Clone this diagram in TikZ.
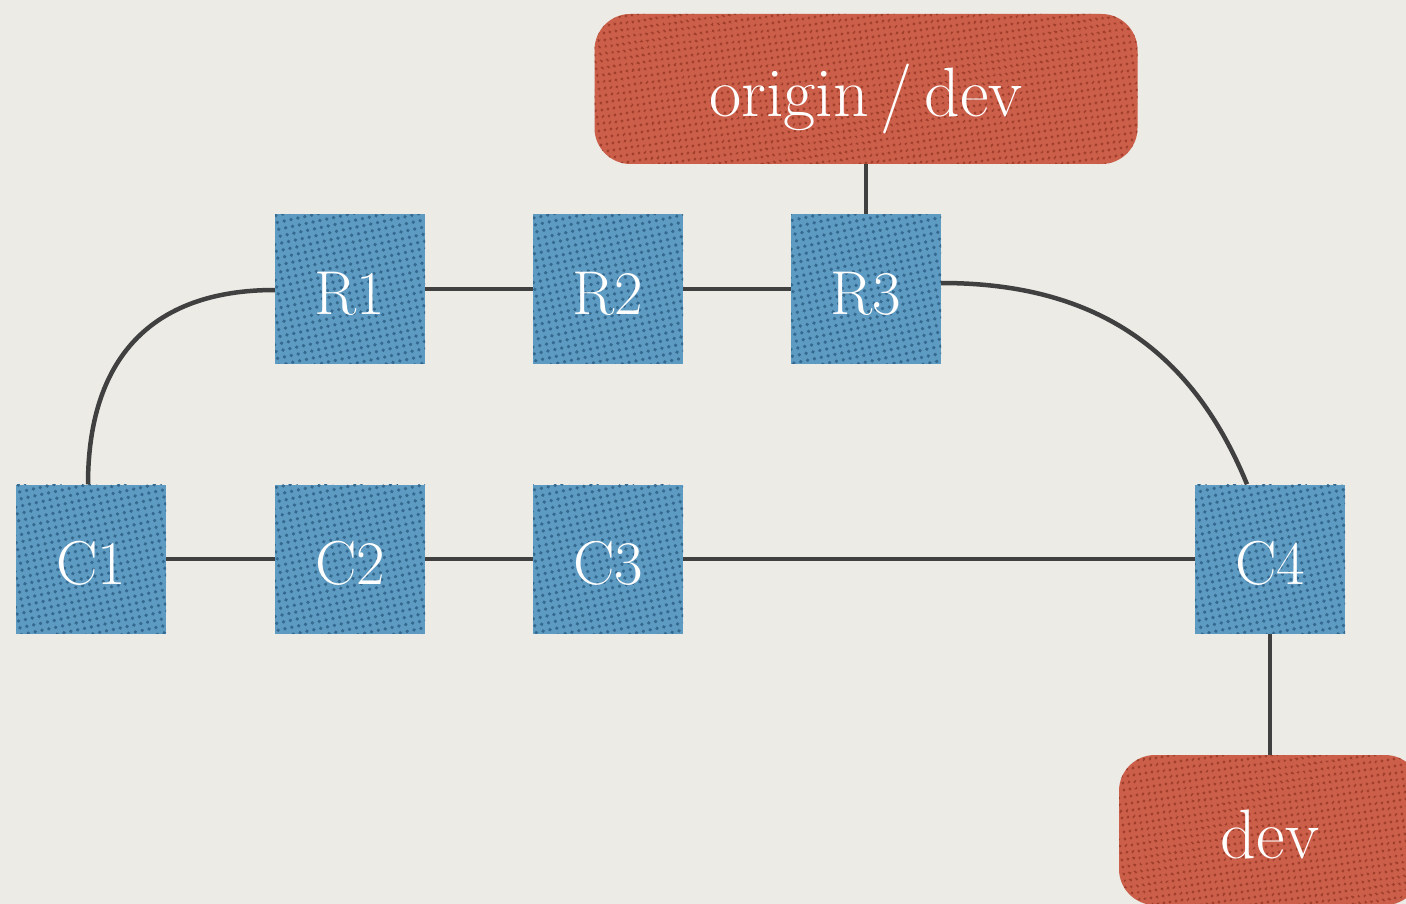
\documentclass[tikz,border=0pt]{standalone}
\usetikzlibrary{patterns.meta}
\definecolor{paper}{HTML}{ECEBE6}
\definecolor{bluebase}{HTML}{5E9BC3}
\definecolor{bluedot}{HTML}{356A90}
\definecolor{redbase}{HTML}{CB5F49}
\definecolor{reddot}{HTML}{A03F2C}
\definecolor{edgegray}{HTML}{404040}
\newcommand\lowtext[2]{\raisebox{-#1}[0pt][0pt]{#2}}
\tikzset{
  commit/.style={rectangle, minimum width=150pt, minimum height=149pt, inner sep=0pt,
    fill=bluebase, text=white, font=\fontsize{62}{70}\selectfont,
    postaction={pattern={Dots[radius=1.9pt,distance=7pt,angle=12]}, pattern color=bluedot}},
  branch/.style={rectangle, rounded corners=36pt, minimum height=150pt, inner sep=0pt,
    fill=redbase, text=white, font=\fontsize{70}{76}\selectfont,
    postaction={pattern={Dots[radius=1.7pt,distance=6.5pt,angle=8]}, pattern color=reddot}},
  link/.style={draw=edgegray, line width=4.5pt}
}
\begin{document}
\begin{tikzpicture}[x=1pt,y=-1pt]
\fill[paper] (0,0) rectangle (1406,904);
\useasboundingbox (0,0) rectangle (1406,904);
\begin{scope}
\clip (0,0) rectangle (1406,904);
\node[branch, minimum width=543pt] (origin) at (866,89) {\lowtext{28pt}{origin\,/\,dev}};
\node[commit] (R1) at (350,289) {\lowtext{25pt}{R1}};
\node[commit] (R2) at (608,289) {\lowtext{25pt}{R2}};
\node[commit] (R3) at (866,289) {\lowtext{25pt}{R3}};
\node[commit] (C1) at (91,559) {\lowtext{25pt}{C1}};
\node[commit] (C2) at (350,559) {\lowtext{25pt}{C2}};
\node[commit] (C3) at (608,559) {\lowtext{25pt}{C3}};
\node[commit] (C4) at (1270,559) {\lowtext{25pt}{C4}};
\node[branch, minimum width=302pt] (dev) at (1270,830) {\lowtext{28pt}{dev}};
\end{scope}
\draw[link] (origin.south) -- (R3.north);
\draw[link] (R1.east) -- (R2.west);
\draw[link] (R2.east) -- (R3.west);
\draw[link] ([yshift=-1pt]R1.west) .. controls (150,290) and (88,360) .. ([xshift=-3pt]C1.north);
\draw[link] ([yshift=6pt]R3.east) .. controls (1090,283) and (1190,345) .. ([xshift=-23pt]C4.north);
\draw[link] (C1.east) -- (C2.west);
\draw[link] (C2.east) -- (C3.west);
\draw[link] (C3.east) -- (C4.west);
\draw[link] (C4.south) -- (dev.north);
\end{tikzpicture}
\end{document}
